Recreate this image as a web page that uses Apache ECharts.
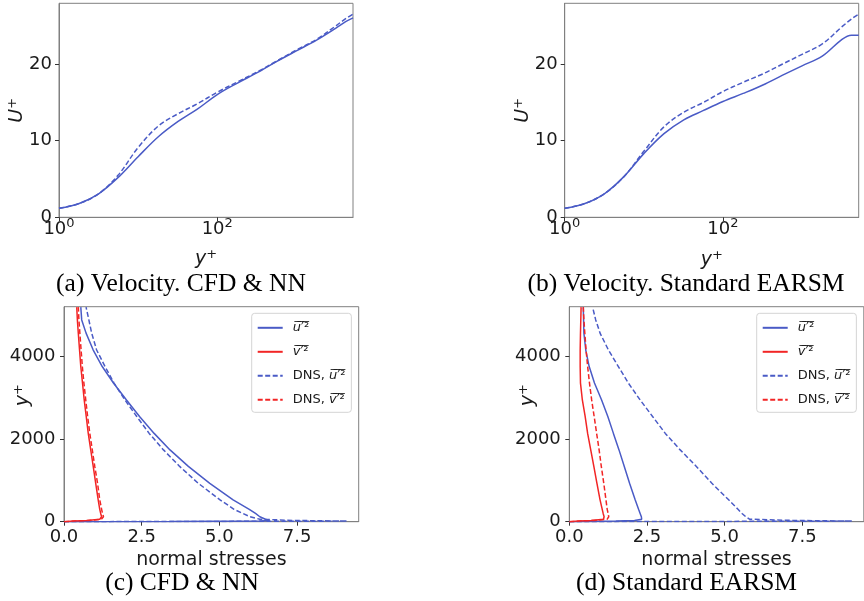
<!DOCTYPE html>
<html>
<head>
<meta charset="utf-8">
<script src="https://cdn.jsdelivr.net/npm/echarts@6/dist/echarts.min.js"></script>
<style>
  html, body { margin: 0; padding: 0; background: #ffffff; }
  #chart { width: 864px; height: 601px; }
</style>
</head>
<body>
<div id="chart"></div>
<script>
// ---- Mean velocity profiles, U+ against y+ ----
const yPlusVel = [1, 1.8, 3.2, 5.6, 10, 18, 32, 56, 100, 180, 320, 560, 1000, 1800, 3200, 4200, 5200];
const uNn      = [1.17, 1.8, 3.1, 5.2, 7.9, 10.5, 12.5, 14.1, 16.0, 17.5, 18.85, 20.3, 21.7, 23.1, 24.7, 25.5, 26.0];
const uDnsA    = [1.17, 1.8, 3.1, 5.5, 9.1, 11.9, 13.5, 14.8, 16.3, 17.65, 18.95, 20.35, 21.8, 23.2, 25.0, 25.9, 26.5];
const uEarsm   = [1.17, 1.8, 3.1, 5.3, 8.3, 10.9, 12.7, 13.9, 15.1, 16.15, 17.25, 18.5, 19.75, 21.0, 23.2, 23.75, 23.75];
const uDnsB    = [1.17, 1.8, 3.1, 5.3, 8.6, 11.8, 13.7, 14.95, 16.4, 17.6, 18.7, 19.95, 21.25, 22.6, 24.85, 25.85, 26.5];

// ---- Normal stress profiles, plotted as stress (x) against y+ (y) ----
const yPlusStress = [0, 5, 15, 30, 60, 120, 200, 300, 530, 930, 1340, 1740, 2140, 2550, 2950, 3360, 3760, 4160, 4570, 4890, 5200];
const uuNn    = [0, 3.4, 6.3, 6.62, 6.48, 6.3, 6.16, 5.96, 5.44, 4.69, 4.00, 3.41, 2.90, 2.43, 2.01, 1.59, 1.23, 0.94, 0.71, 0.57, 0.54];
const vvNn    = [0, 0.05, 0.3, 0.75, 1.15, 1.21, 1.18, 1.15, 1.10, 1.02, 0.94, 0.86, 0.78, 0.715, 0.65, 0.595, 0.54, 0.50, 0.46, 0.43, 0.41];
const uuDnsC  = [0, 4.0, 9.1, 7.4, 6.3, 5.98, 5.75, 5.47, 5.02, 4.32, 3.72, 3.20, 2.74, 2.34, 1.96, 1.61, 1.32, 1.05, 0.89, 0.80, 0.71];
const vvDnsC  = [0, 0.06, 0.35, 0.8, 1.2, 1.27, 1.24, 1.21, 1.15, 1.08, 0.99, 0.91, 0.83, 0.76, 0.70, 0.64, 0.59, 0.55, 0.51, 0.48, 0.46];
const uuEarsm = [0, 0.6, 1.5, 2.1, 2.33, 2.32, 2.28, 2.23, 2.12, 1.94, 1.77, 1.60, 1.42, 1.24, 1.04, 0.81, 0.64, 0.53, 0.47, 0.46, 0.45];
const vvEarsm = [0, 0.05, 0.3, 0.7, 1.1, 1.12, 1.09, 1.06, 0.99, 0.89, 0.79, 0.69, 0.59, 0.51, 0.42, 0.36, 0.35, 0.35, 0.36, 0.37, 0.38];
const uuDnsD  = [0, 4.0, 9.1, 7.2, 5.8, 5.68, 5.56, 5.43, 5.13, 4.59, 4.09, 3.57, 3.09, 2.68, 2.28, 1.90, 1.58, 1.26, 0.99, 0.85, 0.75];
const vvDnsD  = [0, 0.06, 0.35, 0.8, 1.22, 1.27, 1.25, 1.22, 1.18, 1.11, 1.03, 0.96, 0.88, 0.80, 0.72, 0.65, 0.59, 0.54, 0.50, 0.47, 0.45];

// ---- Tick values ----
const velXTicks = [1, 100];
const velYTicks = [0, 10, 20];
const stressXTicks = [0, 2.5, 5, 7.5];
const stressYTicks = [0, 2000, 4000];

// ---- Sub-figure captions ----
const captions = [
  '(a) Velocity. CFD & NN',
  '(b) Velocity. Standard EARSM',
  '(c) CFD & NN',
  '(d) Standard EARSM'
];

const legendNames = ['u2', 'v2', 'dnsU2', 'dnsV2'];
const legendText = {
  u2: '{it|u\u0305}{sp|\u2032\u0305\u00b2\u0305}',
  v2: '{it|v\u0305}{sp|\u2032\u0305\u00b2\u0305}',
  dnsU2: 'DNS, {it|u\u0305}{sp|\u2032\u0305\u00b2\u0305}',
  dnsV2: 'DNS, {it|v\u0305}{sp|\u2032\u0305\u00b2\u0305}'
};

const BLUE = '#4a5bc6';
const RED = '#f22525';
const FRAME = '#808080';
const INK = '#1a1a1a';
const SANS = 'DejaVu Sans';

const chart = echarts.init(document.getElementById('chart'), null, { renderer: 'canvas' });

const grids = [
  { left: 59, top: 3.3, width: 294, height: 214 },
  { left: 564.7, top: 3.3, width: 294, height: 214 },
  { left: 64, top: 306.7, width: 294.7, height: 215 },
  { left: 569.3, top: 306.7, width: 294.5, height: 215 }
].map(g => Object.assign({ show: true, borderColor: FRAME, borderWidth: 1, backgroundColor: 'transparent' }, g));

const nameRich = {
  i: { fontFamily: SANS, fontSize: 19, fontStyle: 'italic', color: INK, lineHeight: 22 },
  n: { fontFamily: SANS, fontSize: 19, color: INK, lineHeight: 22 },
  s: { fontFamily: SANS, fontSize: 13, color: INK, lineHeight: 13, verticalAlign: 'top' }
};

function baseAxis(extra) {
  return Object.assign({
    axisLine: { show: true, lineStyle: { color: FRAME, width: 1 } },
    splitLine: { show: false },
    nameLocation: 'middle',
    nameMoveOverlap: false,
    nameTextStyle: { fontFamily: SANS, fontSize: 19, color: INK, rich: nameRich }
  }, extra);
}

function logXAxis(gridIndex, gap) {
  return baseAxis({
    gridIndex, type: 'log', logBase: 10, min: 1, max: 5200,
    name: '{i|y}{s|+}', nameGap: gap,
    axisTick: { show: true, length: 4, customValues: velXTicks, lineStyle: { color: '#333' } },
    axisLabel: {
      customValues: velXTicks, margin: 0,
      formatter: v => '{b|10}{s|' + Math.round(Math.log10(v)) + '}',
      rich: {
        b: { fontFamily: SANS, fontSize: 18, color: INK, lineHeight: 24 },
        s: { fontFamily: SANS, fontSize: 13, color: INK, lineHeight: 12, verticalAlign: 'top' }
      }
    }
  });
}

function velYAxis(gridIndex, gap) {
  return baseAxis({
    gridIndex, type: 'value', min: 0, max: 27.9,
    name: '{i|U}{s|+}', nameGap: gap, nameRotate: 90,
    axisTick: { show: true, length: 4, customValues: velYTicks, lineStyle: { color: '#333' } },
    axisLabel: { customValues: velYTicks, margin: 7, fontFamily: SANS, fontSize: 18, color: INK, formatter: v => String(v) }
  });
}

function stressXAxis(gridIndex) {
  return baseAxis({
    gridIndex, type: 'value', min: 0, max: 9.48,
    name: '{n|normal stresses}', nameGap: 27,
    axisTick: { show: true, length: 4, customValues: stressXTicks, lineStyle: { color: '#333' } },
    axisLabel: { customValues: stressXTicks, margin: 7, fontFamily: SANS, fontSize: 18, color: INK, formatter: v => v.toFixed(1) }
  });
}

function stressYAxis(gridIndex, gap) {
  return baseAxis({
    gridIndex, type: 'value', min: 0, max: 5210,
    name: '{i|y}{s|+}', nameGap: gap, nameRotate: 90,
    nameTextStyle: { fontFamily: SANS, fontSize: 19, color: INK, rich: nameRich, padding: [0, 0, 0, 38] },
    axisTick: { show: true, length: 4, customValues: stressYTicks, lineStyle: { color: '#333' } },
    axisLabel: { customValues: stressYTicks, margin: 8.5, fontFamily: SANS, fontSize: 18, color: INK, formatter: v => String(v) }
  });
}

function line(name, idx, data, color, dashed, smooth) {
  return {
    type: 'line', name, xAxisIndex: idx, yAxisIndex: idx, data,
    symbol: 'none', smooth: smooth || false, clip: true,
    lineStyle: { color, width: 1.5, type: dashed ? [5, 2.5] : 'solid' },
    itemStyle: { color },
    z: dashed ? 3 : 2
  };
}

const velPairs = arr => yPlusVel.map((y, i) => [y, arr[i]]);
const stressPairs = arr => yPlusStress.map((y, i) => [arr[i], y]);

function legendAt(left) {
  return {
    orient: 'vertical', left, top: 313.3,
    data: legendNames,
    selectedMode: false,
    itemWidth: 25, itemHeight: 14, itemGap: 11,
    padding: [8, 6, 6, 5],
    backgroundColor: 'rgba(255,255,255,0.8)',
    borderColor: '#d4d4d4', borderWidth: 1, borderRadius: 3,
    itemStyle: { opacity: 0, borderWidth: 0 },
    formatter: n => legendText[n],
    textStyle: {
      fontFamily: SANS, fontSize: 13, color: INK, padding: [0, 0, 0, 5],
      rich: {
        it: { fontFamily: SANS, fontSize: 13, fontStyle: 'italic', color: INK },
        sp: { fontFamily: SANS, fontSize: 13, color: INK }
      }
    }
  };
}

const captionPos = [[181, 284], [686, 284], [182, 583], [686.5, 583]];

const option = {
  animation: false,
  backgroundColor: '#ffffff',
  grid: grids,
  xAxis: [logXAxis(0, 31), logXAxis(1, 32), stressXAxis(2), stressXAxis(3)],
  yAxis: [velYAxis(0, 30.5), velYAxis(1, 30.7), stressYAxis(2, 29.5), stressYAxis(3, 29.8)],
  legend: [legendAt(251.7), legendAt(756.7)],
  series: [
    line('U', 0, velPairs(uNn), BLUE, false, 0.35),
    line('U DNS', 0, velPairs(uDnsA), BLUE, true, 0.35),
    line('U EARSM', 1, velPairs(uEarsm), BLUE, false, 0.35),
    line('U DNS b', 1, velPairs(uDnsB), BLUE, true, 0.35),

    line('u2', 2, stressPairs(uuNn), BLUE, false),
    line('v2', 2, stressPairs(vvNn), RED, false),
    line('dnsU2', 2, stressPairs(uuDnsC), BLUE, true),
    line('dnsV2', 2, stressPairs(vvDnsC), RED, true),

    line('u2', 3, stressPairs(uuEarsm), BLUE, false),
    line('v2', 3, stressPairs(vvEarsm), RED, false),
    line('dnsU2', 3, stressPairs(uuDnsD), BLUE, true),
    line('dnsV2', 3, stressPairs(vvDnsD), RED, true)
  ],
  graphic: captions.map((text, i) => ({
    type: 'text',
    x: captionPos[i][0], y: captionPos[i][1],
    silent: true,
    style: {
      text, fill: '#000000',
      font: '25.5px "Liberation Serif", "Times New Roman", serif',
      align: 'center', verticalAlign: 'middle'
    }
  }))
};

chart.setOption(option);
</script>
</body>
</html>
